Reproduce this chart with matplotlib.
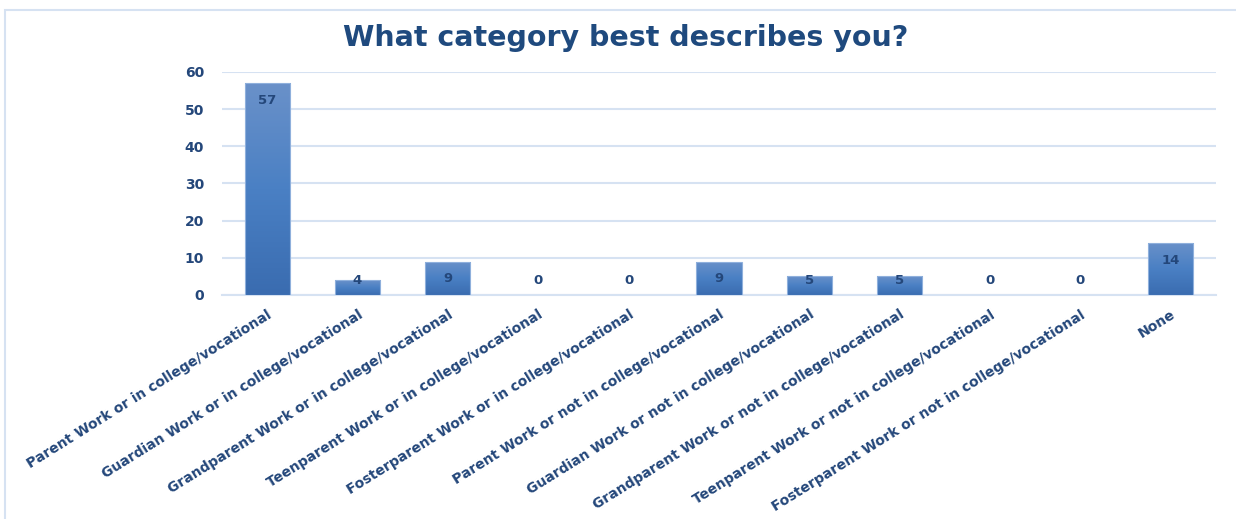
import numpy as np
import matplotlib.pyplot as plt
from matplotlib.patches import Rectangle
from matplotlib.colors import LinearSegmentedColormap

categories = [
    "Parent Work or in college/vocational",
    "Guardian Work or in college/vocational",
    "Grandparent Work or in college/vocational",
    "Teenparent Work or in college/vocational",
    "Fosterparent Work or in college/vocational",
    "Parent Work or not in college/vocational",
    "Guardian Work or not in college/vocational",
    "Grandparent Work or not in college/vocational",
    "Teenparent Work or not in college/vocational",
    "Fosterparent Work or not in college/vocational",
    "None",
]
counts = [57, 4, 9, 0, 0, 9, 5, 5, 0, 0, 14]
yticks = [0, 10, 20, 30, 40, 50, 60]

text_col = "#24477a"
grid_col = "#d6e2f2"
font = "DejaVu Sans"

fig = plt.figure(figsize=(12.36, 5.19), dpi=100)
ax = fig.add_axes([0.1796, 0.4316, 0.8042, 0.4297])

# outer chart frame
fig.patches.append(Rectangle((5 / 1236, -0.1), 1.2, 1 - 10 / 519 + 0.1,
                             transform=fig.transFigure, fill=False,
                             edgecolor=grid_col, linewidth=1.5))

x = np.arange(len(categories))
bars = ax.bar(x, counts, width=0.5, color="none", edgecolor="none", zorder=3)

# vertical gradient fill for each bar
cmap = LinearSegmentedColormap.from_list("bar", ["#3a6cb0", "#4a80c4", "#6a91c9"])
grad = np.linspace(0, 1, 256).reshape(-1, 1)
for b in bars:
    h = b.get_height()
    if h <= 0:
        continue
    x0 = b.get_x()
    im = ax.imshow(grad, cmap=cmap, aspect="auto", origin="lower",
                   extent=[x0, x0 + b.get_width(), 0, h], zorder=3)
    im.set_clip_path(b)
    ax.add_patch(Rectangle((x0, 0), b.get_width(), h, fill=False,
                           edgecolor="#8fb0dc", linewidth=0.8, zorder=4))

for xi, v in zip(x, counts):
    ax.text(xi, max(v - 4.6, 4.0), str(v), ha="center", va="center",
            fontsize=9.5, fontweight="bold", color=text_col, family=font, zorder=5)

ax.set_xlim(-0.5, len(categories) - 0.5)
ax.set_ylim(0, 60)
ax.set_yticks(yticks)
ax.set_yticklabels([str(t) for t in yticks], fontsize=10, fontweight="bold",
                   color=text_col, family=font)
ax.yaxis.grid(True, color=grid_col, linewidth=1.5, zorder=0)
ax.set_axisbelow(True)
for s in ["top", "right", "left"]:
    ax.spines[s].set_visible(False)
ax.spines["bottom"].set_color(grid_col)
ax.spines["bottom"].set_linewidth(1.5)
ax.tick_params(axis="both", length=0)
ax.tick_params(axis="y", pad=13)

ax.set_xticks(x)
ax.set_xticklabels(categories, rotation=32, ha="right", va="top",
                   rotation_mode="anchor", fontsize=10, fontweight="bold",
                   color=text_col, family=font)
ax.tick_params(axis="x", pad=9)

fig.text(626 / 1236, 1 - 38 / 519, "What category best describes you?",
         ha="center", va="center", fontsize=20.5, fontweight="bold",
         color="#1f4a7e", family=font)

fig.savefig("out.png", dpi=100)
